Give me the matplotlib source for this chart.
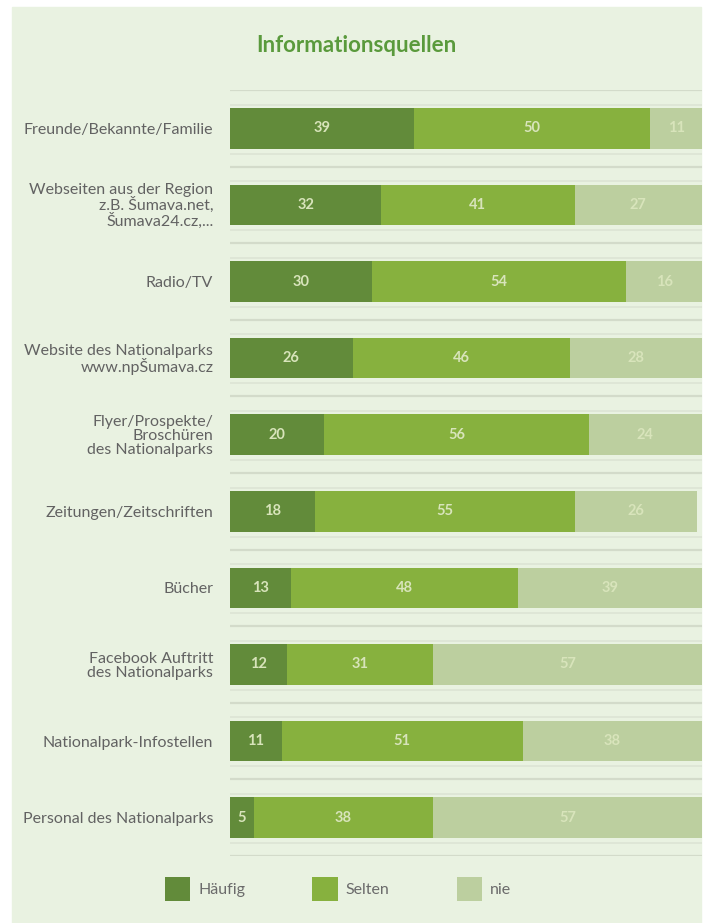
import matplotlib
matplotlib.use('Agg')
import matplotlib.pyplot as plt
from matplotlib.patches import Rectangle
import numpy as np

plt.rcParams['font.family'] = ['Lato', 'DejaVu Sans']

# Daten
kategorien = [
    'Freunde/Bekannte/Familie',
    'Webseiten aus der Region\nz.B. Šumava.net,\nŠumava24.cz,...',
    'Radio/TV',
    'Website des Nationalparks\nwww.npŠumava.cz',
    'Flyer/Prospekte/\nBroschüren\ndes Nationalparks',
    'Zeitungen/Zeitschriften',
    'Bücher',
    'Facebook Auftritt\ndes Nationalparks',
    'Nationalpark-Infostellen',
    'Personal des Nationalparks',
]
haeufig = [39, 32, 30, 26, 20, 18, 13, 12, 11, 5]
selten = [50, 41, 54, 46, 56, 55, 48, 31, 51, 38]
nie = [11, 27, 16, 28, 24, 26, 39, 57, 38, 57]
serien = ['Häufig', 'Selten', 'nie']

farben = ['#628b3a', '#87b13e', '#bccf9f']
hintergrund = '#e9f2e1'

fig = plt.figure(figsize=(7.06, 9.23), dpi=100, facecolor='white')
fig.patches.append(Rectangle((12 / 706, 0), 689 / 706, 1 - 7 / 923,
                             transform=fig.transFigure, color=hintergrund, zorder=-5))

ax = fig.add_axes([230 / 706, 67 / 923, 472 / 706, 766 / 923])
ax.set_facecolor('none')
ax.set_zorder(2)

y = np.arange(len(kategorien))
links = np.zeros(len(kategorien))
for werte, name, farbe in zip([haeufig, selten, nie], serien, farben):
    werte = np.array(werte)
    ax.barh(y, werte, left=links, height=0.53, color=farbe, label=name, zorder=3)
    for yi, l, w in zip(y, links, werte):
        ax.text(l + w / 2, yi, str(w), ha='center', va='center',
                color='#d8e4bb', fontsize=10.5, fontweight='bold', zorder=4)
    links = links + werte

# Gitterlinien
for yi in y:
    ax.axhline(yi - 0.5, color='#d3dbca', lw=1.6, zorder=1)
    ax.axhline(yi - 0.31, color='#dce4d4', lw=1.2, zorder=1)
    ax.axhline(yi + 0.33, color='#dce4d4', lw=1.2, zorder=1)
ax.axhline(len(kategorien) - 0.5, color='#d3dbca', lw=1.6, zorder=1)
ax.axvline(-0.4, color='#dde4d6', lw=1.0, ls=(0, (6, 4)), zorder=1)

ax.set_xlim(0, 100)
ax.set_ylim(len(kategorien) - 0.5, -0.5)
ax.set_yticks(y)
ax.set_yticklabels(kategorien, fontsize=11.5, color='#626262', linespacing=0.97)
ax.tick_params(axis='y', length=0, pad=12)
ax.set_xticks([])
for s in ax.spines.values():
    s.set_visible(False)

fig.text(356 / 706, 1 - 52 / 923, 'Informationsquellen', ha='center', va='baseline',
         fontsize=16, fontweight='bold', color='#5a9a3c')

fig.legend(loc='center', bbox_to_anchor=(338 / 706, 34 / 923), ncol=3, frameon=False,
           fontsize=11.5, labelcolor='#6b6b6b', handlelength=1.6, handleheight=2.0,
           handletextpad=0.5, columnspacing=4.2)

fig.savefig('out.png', dpi=100, facecolor='white')
